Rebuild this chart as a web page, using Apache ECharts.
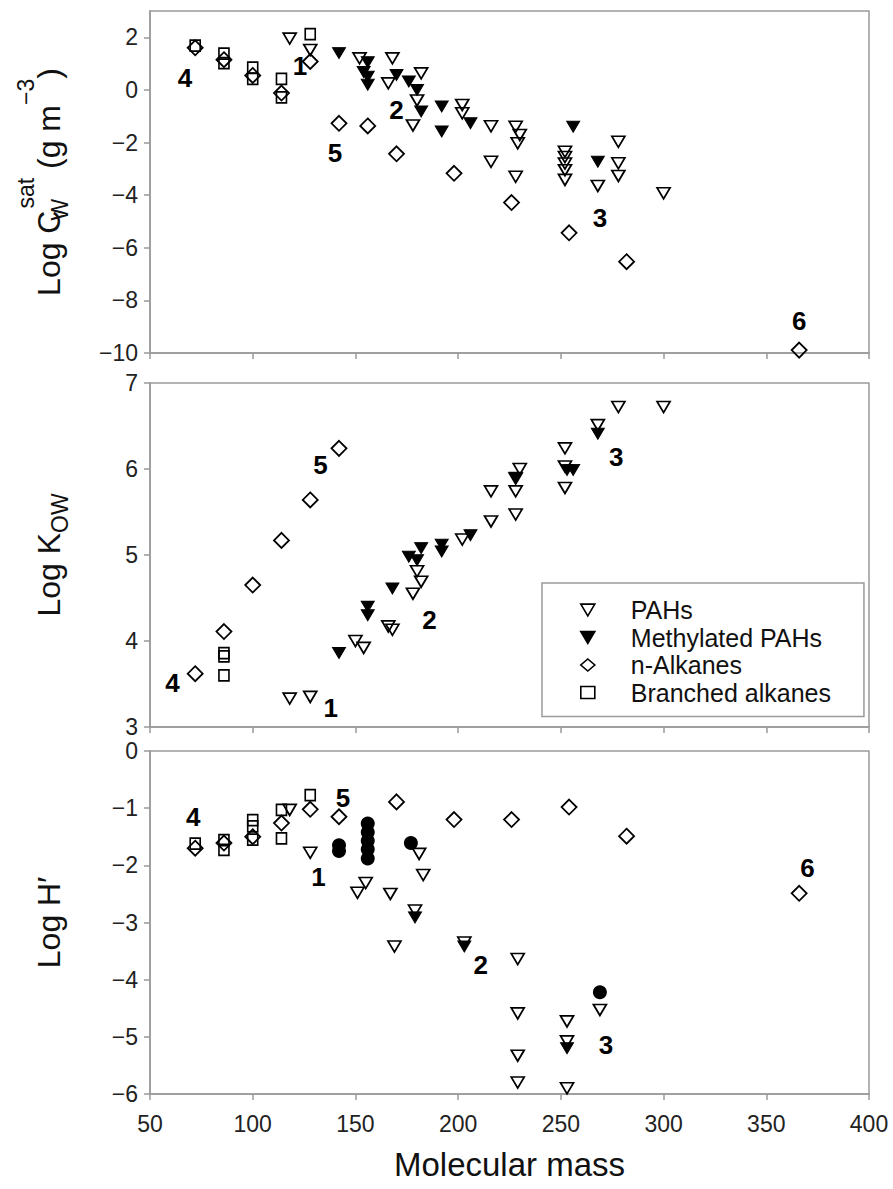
<!DOCTYPE html>
<html><head><meta charset="utf-8">
<script src="https://cdn.jsdelivr.net/npm/echarts@6/dist/echarts.min.js"></script>
<style>html,body{margin:0;padding:0;background:#fff}#c{width:893px;height:1189px}</style>
</head><body><div id="c"></div>
<script>
// ---------- tick values ----------
const xTicks = [50, 100, 150, 200, 250, 300, 350, 400];
const cwTicks = [-10, -8, -6, -4, -2, 0, 2];
const kowTicks = [3, 4, 5, 6, 7];
const hTicks = [-6, -5, -4, -3, -2, -1, 0];

// ---------- panel 1: Log Cw sat ----------
const cwPAH = [[118,1.95],[128,1.52],[152,1.2],[166,0.25],[168,1.2],[178,-1.35],[180,-0.4],[182,0.63],[202,-0.57],[202,-0.89],[216,-1.38],[216,-2.73],[228,-1.4],[228,-3.3],[230,-1.71],[229,-2.03],[252,-2.35],[252,-2.55],[252,-2.8],[252,-3.05],[252,-3.42],[268,-3.65],[278,-1.97],[278,-2.79],[278,-3.27],[300,-3.93]];
const cwMePAH = [[142,1.4],[156,1.05],[154,0.68],[156,0.5],[156,0.2],[170,0.57],[176,0.32],[180,0.0],[182,-0.82],[192,-0.63],[192,-1.58],[206,-1.27],[256,-1.4],[268,-2.73]];
const cwNAlk = [[72,1.6],[86,1.15],[100,0.55],[114,-0.12],[128,1.08],[142,-1.27],[156,-1.37],[170,-2.43],[198,-3.17],[226,-4.28],[254,-5.43],[282,-6.53],[366,-9.89]];
const cwBrAlk = [[72,1.68],[86,1.38],[86,1.02],[100,0.85],[100,0.42],[114,0.42],[114,-0.28],[128,2.12]];
const cwNotes = [[67,0.45,'4'],[123,0.9,'1'],[170,-0.76,'2'],[269,-4.87,'3'],[140,-2.4,'5'],[366,-8.8,'6']];

// ---------- panel 2: Log Kow ----------
const kowPAH = [[118,3.33],[128,3.35],[150,4.0],[154,3.92],[166,4.17],[168,4.13],[178,4.55],[180,4.81],[182,4.69],[202,5.18],[216,5.39],[216,5.74],[228,5.47],[228,5.74],[228,5.89],[230,6.0],[252,6.24],[252,6.03],[252,5.78],[268,6.51],[278,6.72],[300,6.72]];
const kowMePAH = [[142,3.86],[156,4.40],[156,4.30],[168,4.61],[176,4.98],[180,4.94],[182,5.08],[192,5.12],[192,5.04],[206,5.23],[228,5.9],[253,5.99],[256,5.99],[268,6.41]];
const kowNAlk = [[72,3.62],[86,4.11],[100,4.65],[114,5.17],[128,5.64],[142,6.24]];
const kowBrAlk = [[86,3.86],[86,3.82],[86,3.6]];
const kowNotes = [[61,3.51,'4'],[138,3.22,'1'],[186,4.24,'2'],[277,6.14,'3'],[133,6.05,'5']];

// ---------- panel 3: Log H' ----------
const hPAH = [[118,-1.03],[128,-1.78],[151,-2.48],[155,-2.31],[167,-2.5],[169,-3.42],[179,-2.79],[181,-1.8],[183,-2.17],[203,-3.35],[229,-3.64],[229,-4.59],[229,-5.33],[229,-5.80],[253,-4.73],[253,-5.08],[253,-5.90],[269,-4.53]];
const hMePAH = [[179,-2.91],[203,-3.42],[253,-5.20]];
const hNAlk = [[72,-1.70],[86,-1.61],[100,-1.50],[114,-1.26],[128,-1.02],[142,-1.15],[170,-0.89],[198,-1.2],[226,-1.2],[254,-0.98],[282,-1.49],[366,-2.49]];
const hBrAlk = [[72,-1.62],[86,-1.56],[86,-1.73],[100,-1.21],[100,-1.32],[100,-1.55],[114,-1.03],[114,-1.53],[128,-0.77]];
const hMeCirc = [[142,-1.65],[142,-1.75],[156,-1.27],[156,-1.42],[156,-1.57],[156,-1.72],[156,-1.88],[177,-1.61],[269,-4.22]];
const hNotes = [[71,-1.15,'4'],[132,-2.2,'1'],[211,-3.74,'2'],[272,-5.14,'3'],[144,-0.83,'5'],[370,-2.05,'6']];

// ---------- styling ----------
const FONT = '"Liberation Sans", Arial, Helvetica, sans-serif';
const TRI = 'path://M0,0 L12,0 L6,10 Z';
const AXC = '#9a9a9a';
const CLEAR = 'rgba(255,255,255,0)';
const STY = {
  'PAHs': {symbol: TRI, symbolSize: [13, 11], itemStyle: {color: CLEAR, borderColor: '#000', borderWidth: 1.7, opacity: 1}},
  'Methylated PAHs': {symbol: TRI, symbolSize: [13, 11], itemStyle: {color: '#000', borderColor: '#000', borderWidth: 1, opacity: 1}},
  'n-Alkanes': {symbol: 'diamond', symbolSize: [15, 15], itemStyle: {color: CLEAR, borderColor: '#000', borderWidth: 1.8, opacity: 1}},
  'Branched alkanes': {symbol: 'rect', symbolSize: [10, 11], itemStyle: {color: CLEAR, borderColor: '#000', borderWidth: 1.7, opacity: 1}},
  'circ': {symbol: 'circle', symbolSize: 14, itemStyle: {color: '#000', borderColor: '#000', borderWidth: 0, opacity: 1}}
};
function scat(p, name, data) {
  const s = STY[name];
  return Object.assign({type: 'scatter', name: name === 'circ' ? 'Methylated PAHs (H)' : name,
    xAxisIndex: p, yAxisIndex: p, data: data, emphasis: {disabled: true}, silent: true, z: 3}, s);
}
function notes(p, arr) {
  return {type: 'scatter', xAxisIndex: p, yAxisIndex: p, silent: true, z: 6, symbolSize: 1,
    itemStyle: {color: CLEAR, opacity: 1},
    emphasis: {disabled: true},
    data: arr.map(n => ({value: [n[0], n[1]], label: {formatter: n[2]}})),
    label: {show: true, position: 'inside', fontSize: 26, fontWeight: 'bold', color: '#000',
      opacity: 1, textBorderWidth: 0, fontFamily: FONT}};
}
const minus = v => String(v).replace('-', '\u2212');
const grids = [
  {left: 150, top: 11, width: 719, height: 342},
  {left: 150, top: 383, width: 719, height: 344},
  {left: 150, top: 751, width: 719, height: 343}
].map(g => Object.assign(g, {show: true, borderColor: AXC, borderWidth: 1.5, backgroundColor: 'transparent'}));

function xAx(p) {
  const last = p === 2;
  return {type: 'value', gridIndex: p, min: 50, max: 400, interval: 50,
    axisLine: {show: true, onZero: false, lineStyle: {color: AXC, width: 1.5}},
    axisTick: {show: true, inside: false, length: 6, lineStyle: {color: AXC, width: 1.5}},
    splitLine: {show: false},
    axisLabel: {show: last, fontSize: 23, color: '#222', fontFamily: FONT, margin: 18,
      customValues: xTicks},
    name: last ? 'Molecular mass' : '', nameLocation: 'middle', nameGap: 54,
    nameTextStyle: {fontSize: 33, color: '#111', fontFamily: FONT}};
}
const richName = {
  a: {fontSize: 32, color: '#111', fontFamily: FONT, verticalAlign: 'middle'},
  w: {fontSize: 23, color: '#111', fontFamily: FONT, height: 44, verticalAlign: 'bottom', width: 2},
  w2: {fontSize: 23, color: '#111', fontFamily: FONT, height: 44, verticalAlign: 'bottom'},
  s: {fontSize: 23, color: '#111', fontFamily: FONT, height: 20, verticalAlign: 'top'}
};
function yAx(p, min, max, interval, ticks, name) {
  return {type: 'value', gridIndex: p, min: min, max: max, interval: interval,
    axisLine: {show: true, onZero: false, lineStyle: {color: AXC, width: 1.5}},
    axisTick: {show: true, inside: false, length: 6, lineStyle: {color: AXC, width: 1.5}, customValues: ticks},
    splitLine: {show: false},
    axisLabel: {fontSize: 23, color: '#222', fontFamily: FONT, margin: 12, customValues: ticks,
      formatter: v => ticks.indexOf(v) < 0 ? '' : minus(v)},
    name: name, nameLocation: 'middle', nameRotate: 90, nameGap: 68,
    nameTextStyle: {lineHeight: 66, fontSize: 32, color: '#111', fontFamily: FONT, rich: richName}};
}

const option = {
  backgroundColor: '#fff',
  animation: false,
  textStyle: {fontFamily: FONT},
  grid: grids,
  xAxis: [xAx(0), xAx(1), xAx(2)],
  yAxis: [
    yAx(0, -10, 3, 2, cwTicks, '{a|Log C}{w|W}{s|sat}{a| (g m}{s|\u22123}{a|)}'),
    yAx(1, 3, 7, 1, kowTicks, '{a|Log K}{w2|OW}'),
    yAx(2, -6, 0, 1, hTicks, '{a|Log H\u2032}')
  ],
  legend: {
    show: true, orient: 'vertical', left: 542, top: 583, selectedMode: false,
    borderColor: AXC, borderWidth: 1.5, borderRadius: 0,
    padding: [14, 33, 11, 38], itemGap: 1.5, itemWidth: 14, itemHeight: 12,
    itemStyle: {borderWidth: 1.6},
    textStyle: {fontSize: 25, color: '#111', fontFamily: FONT, lineHeight: 26, padding: [0, 0, 0, 31]},
    data: [
      {name: 'PAHs', icon: TRI},
      {name: 'Methylated PAHs', icon: TRI},
      {name: 'n-Alkanes', icon: 'diamond'},
      {name: 'Branched alkanes', icon: 'rect'}
    ]
  },
  series: [
    scat(0, 'PAHs', cwPAH), scat(0, 'Methylated PAHs', cwMePAH), scat(0, 'n-Alkanes', cwNAlk), scat(0, 'Branched alkanes', cwBrAlk), notes(0, cwNotes),
    scat(1, 'PAHs', kowPAH), scat(1, 'Methylated PAHs', kowMePAH), scat(1, 'n-Alkanes', kowNAlk), scat(1, 'Branched alkanes', kowBrAlk), notes(1, kowNotes),
    scat(2, 'PAHs', hPAH), scat(2, 'Methylated PAHs', hMePAH), scat(2, 'n-Alkanes', hNAlk), scat(2, 'Branched alkanes', hBrAlk), scat(2, 'circ', hMeCirc), notes(2, hNotes)
  ]
};
const chart = echarts.init(document.getElementById('c'), null, {renderer: 'svg', width: 893, height: 1189});
chart.setOption(option);
</script></body></html>
